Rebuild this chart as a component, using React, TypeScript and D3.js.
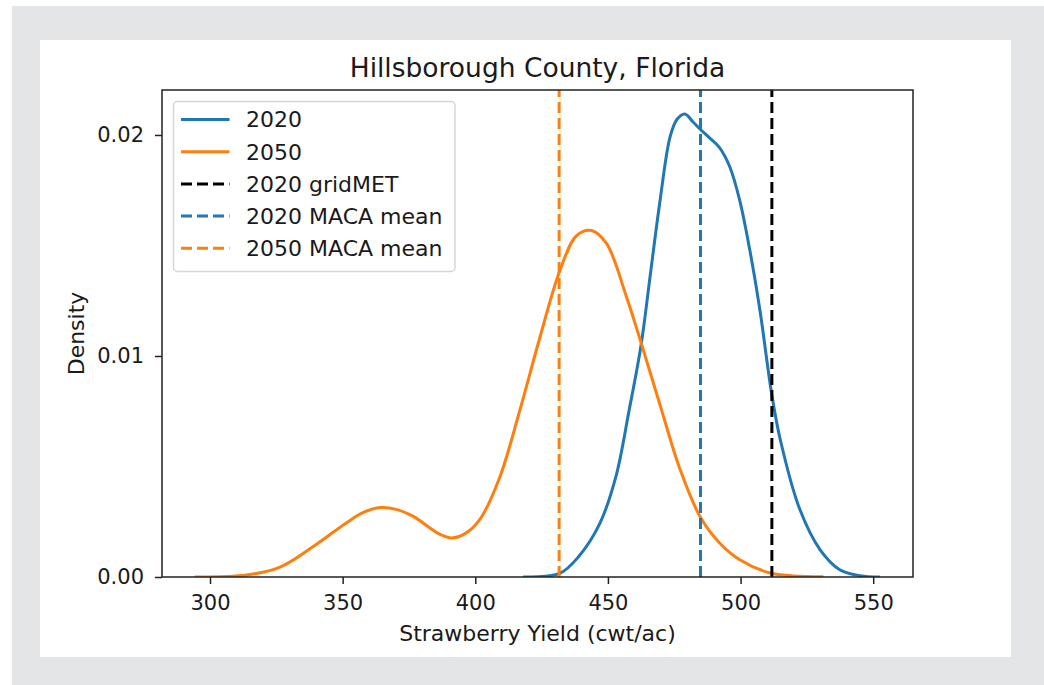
import React, { useEffect, useRef } from 'react';
import * as d3 from 'd3';

// KDE curves (yield in cwt/ac, density)
const yield2020 = [418, 432, 439, 447, 453, 458, 462.5, 466, 469.5, 473.4, 476, 479, 482, 484.7, 488, 492, 496, 499.7, 503.5, 507.3, 511.7, 515, 522.4, 530, 537.4, 545, 552.5];
const density2020 = [0, 0.00018, 0.00093, 0.00244, 0.00454, 0.00755, 0.0105, 0.0137, 0.0169, 0.0199, 0.0207, 0.02095, 0.0206, 0.02027, 0.0199, 0.01944, 0.01854, 0.01703, 0.01478, 0.01207, 0.00831, 0.0062, 0.00304, 0.00123, 0.00033, 0.00006, 0];

const yield2050 = [294.3, 313.8, 326.4, 338.9, 351.5, 357.8, 364.1, 370.5, 376.6, 386.7, 391.1, 396, 401.8, 409.3, 416.8, 424.4, 431.9, 438.2, 443.8, 449.5, 457, 462.5, 469.6, 477.1, 484.7, 492.2, 499.7, 511.1, 520, 531.2];
const density2050 = [0, 0.00009, 0.00045, 0.00138, 0.00246, 0.00292, 0.00314, 0.00305, 0.00274, 0.00193, 0.00177, 0.00195, 0.00262, 0.00454, 0.00755, 0.01086, 0.01387, 0.01545, 0.01568, 0.01508, 0.01267, 0.0106, 0.0078, 0.0049, 0.00274, 0.00153, 0.00078, 0.00018, 0.00005, 0.00001];

// vertical reference lines
const refLabels = ['2020 gridMET', '2020 MACA mean', '2050 MACA mean'];
const refValues = [511.8, 484.9, 431.6];
const refColors = ['#000000', '#1f77b4', '#ff7f0e'];

const xTicks = [300, 350, 400, 450, 500, 550];
const yTicks = [0, 0.01, 0.02];

const FONT = 'DejaVu Sans, sans-serif';

const App: React.FC = () => {
  const ref = useRef<SVGSVGElement | null>(null);

  useEffect(() => {
    if (!ref.current) return;
    const svg = d3.select(ref.current);
    svg.selectAll('*').remove();

    const W = 1044, H = 685;
    const box = { left: 162, right: 913, top: 90, bottom: 577 };

    svg.append('rect').attr('x', 12).attr('y', 6).attr('width', W - 12).attr('height', H - 6).attr('fill', '#e4e5e7');
    svg.append('rect').attr('x', 40).attr('y', 40).attr('width', 971).attr('height', 617).attr('fill', '#ffffff');

    const x = d3.scaleLinear().domain([281.9, 565]).range([box.left, box.right]);
    const y = d3.scaleLinear().domain([0, 0.022035]).range([box.bottom, box.top]);

    svg.append('defs').append('clipPath').attr('id', 'plot-clip')
      .append('rect')
      .attr('x', box.left).attr('y', box.top)
      .attr('width', box.right - box.left).attr('height', box.bottom - box.top);

    const plot = svg.append('g').attr('clip-path', 'url(#plot-clip)');

    const line = d3.line<[number, number]>()
      .x(d => x(d[0]))
      .y(d => Math.min(y(d[1]), box.bottom))
      .curve(d3.curveCatmullRom.alpha(0.5));

    const series = [
      { xs: yield2020, ys: density2020, color: '#1f77b4' },
      { xs: yield2050, ys: density2050, color: '#ff7f0e' },
    ];
    series.forEach(s => {
      plot.append('path')
        .datum(s.xs.map((v, i) => [v, s.ys[i]] as [number, number]))
        .attr('d', line)
        .attr('fill', 'none')
        .attr('stroke', s.color)
        .attr('stroke-width', 3)
        .attr('stroke-linejoin', 'round');
    });

    refValues.forEach((v, i) => {
      plot.append('line')
        .attr('x1', x(v)).attr('x2', x(v))
        .attr('y1', box.bottom).attr('y2', box.top)
        .attr('stroke', refColors[i])
        .attr('stroke-width', 3)
        .attr('stroke-dasharray', '11,5');
    });

    // axes
    const xAxis = svg.append('g')
      .attr('transform', `translate(0, ${box.bottom})`)
      .call(d3.axisBottom(x).tickValues(xTicks).tickSize(7).tickPadding(6).tickFormat(d => `${d}`));
    const yAxis = svg.append('g')
      .attr('transform', `translate(${box.left}, 0)`)
      .call(d3.axisLeft(y).tickValues(yTicks).tickSize(7).tickPadding(11).tickFormat(d3.format('.2f')));

    [xAxis, yAxis].forEach(a => {
      a.select('.domain').remove();
      a.selectAll('line').attr('stroke', '#222').attr('stroke-width', 1.5);
      a.selectAll('text')
        .attr('fill', '#1a1a1a')
        .style('font-family', FONT)
        .style('font-size', '21px');
    });
    xAxis.selectAll('text').attr('dy', '0.95em');

    svg.append('rect')
      .attr('x', box.left).attr('y', box.top)
      .attr('width', box.right - box.left).attr('height', box.bottom - box.top)
      .attr('fill', 'none')
      .attr('stroke', '#222')
      .attr('stroke-width', 1.5);

    // titles
    svg.append('text')
      .attr('x', (box.left + box.right) / 2).attr('y', 77)
      .attr('text-anchor', 'middle')
      .style('font-family', FONT).style('font-size', '26.5px')
      .attr('fill', '#1a1a1a')
      .text('Hillsborough County, Florida');

    svg.append('text')
      .attr('x', (box.left + box.right) / 2).attr('y', 641)
      .attr('text-anchor', 'middle')
      .style('font-family', FONT).style('font-size', '22px')
      .attr('fill', '#1a1a1a')
      .text('Strawberry Yield (cwt/ac)');

    svg.append('text')
      .attr('transform', `translate(84, ${(box.top + box.bottom) / 2}) rotate(-90)`)
      .attr('text-anchor', 'middle')
      .style('font-family', FONT).style('font-size', '22px')
      .attr('fill', '#1a1a1a')
      .text('Density');

    // legend
    const legendItems = [
      { label: '2020', color: '#1f77b4', dash: null as string | null },
      { label: '2050', color: '#ff7f0e', dash: null as string | null },
      ...refLabels.map((l, i) => ({ label: l, color: refColors[i], dash: '11,5' })),
    ];
    const lg = svg.append('g');
    lg.append('rect')
      .attr('x', 173.5).attr('y', 101.5)
      .attr('width', 281.5).attr('height', 170)
      .attr('rx', 4)
      .attr('fill', '#ffffff').attr('fill-opacity', 0.8)
      .attr('stroke', '#d6d6d6').attr('stroke-width', 1.5);
    legendItems.forEach((it, i) => {
      const cy = 119.5 + i * 32.2;
      lg.append('line')
        .attr('x1', 181).attr('x2', 229.5)
        .attr('y1', cy).attr('y2', cy)
        .attr('stroke', it.color)
        .attr('stroke-width', 3)
        .attr('stroke-dasharray', it.dash ?? null);
      lg.append('text')
        .attr('x', 246).attr('y', cy)
        .attr('dy', '0.36em')
        .style('font-family', FONT).style('font-size', '22px')
        .attr('fill', '#1a1a1a')
        .text(it.label);
    });
  }, []);

  return (
    <svg ref={ref} width={1044} height={685}
      style={{ position: 'absolute', left: 0, top: 0, background: '#ffffff' }} />
  );
};

export default App;
